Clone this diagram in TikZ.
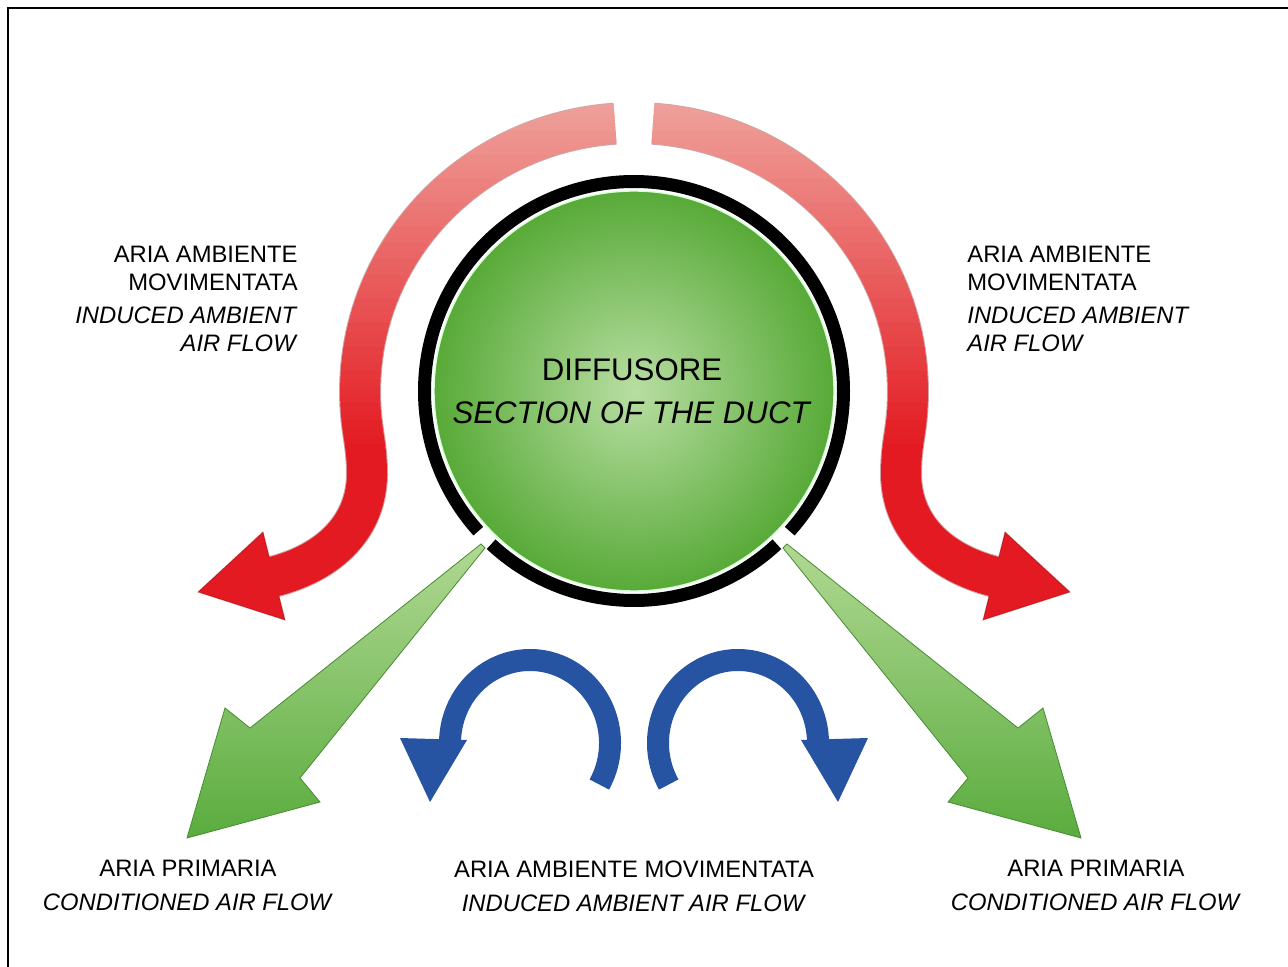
\documentclass[tikz,border=0pt]{standalone}
\usepackage{fontspec}
\setmainfont{Liberation Sans}
\usetikzlibrary{calc}

\definecolor{redtop}{RGB}{239,160,154}
\definecolor{redlow}{RGB}{227,26,33}
\definecolor{greenlight}{RGB}{176,216,146}
\definecolor{greendark}{RGB}{90,172,62}
\definecolor{greenedge}{RGB}{70,140,50}
\definecolor{blueflow}{RGB}{38,84,163}
\definecolor{disklight}{RGB}{184,222,162}
\definecolor{diskdark}{RGB}{88,170,56}

% centre line of the induced (red) flow, left side
\newcommand{\inducedpath}{(615,123.7) arc[start angle=266, end angle=180, x radius=274, y radius=268]
  .. controls (360,430) and (367,440) .. (367,475)
  .. controls (366,530) and (325,565) .. (268,578)}

\tikzset{
  band/.style={line width=20pt},
  bandedge/.style={line width=21pt, draw=red!45!black, opacity=0.35},
  swirl/.style={line width=11pt, draw=blueflow},
  lab/.style={inner sep=0pt, font=\fontsize{11.9}{13.85}\selectfont},
  labbottom/.style={inner sep=0pt, align=center, font=\fontsize{11.9}{17}\selectfont},
  duct/.style={inner sep=0pt, align=center, font=\fontsize{15.6}{21.65}\selectfont}
}

\begin{document}
\begin{tikzpicture}[x=0.5pt, y=-0.5pt]
    \useasboundingbox (0,0) rectangle (1288,967);
    \draw[line width=1.2pt] (8,967) -- (8,8) -- (1288,8);

    % duct section
    \shade[inner color=disklight, outer color=diskdark] (634,391) circle[radius=200];
    \draw[line width=0.7pt, color=green!15] (634,391) circle[radius=200];
    \draw[line width=6.5pt] (634,391) ++(138:209.5) arc[start angle=138, end angle=402, radius=209.5];
    \draw[line width=6.5pt] (634,391) ++(47:209.5) arc[start angle=47, end angle=133, radius=209.5];

    \foreach \s/\sh in {1/0, -1/1268}{
        \begin{scope}[shift={(\sh,0)}, xscale=\s]
            % red flow, faded in thin strips
            \draw[bandedge] \inducedpath;
            \filldraw[fill=redlow, draw=red!45!black, draw opacity=0.35, line width=0.5pt]
                (263,532) -- (198,592) -- (285,620) -- cycle;
            \foreach \i in {0,...,43}{
                \pgfmathtruncatemacro{\mix}{100*\i/43}
                \begin{scope}
                    \clip (0,100+8*\i) rectangle (640,109+8*\i);
                    \draw[band, draw=redlow!\mix!redtop] \inducedpath;
                \end{scope}
            }
            \begin{scope}
                \clip (0,452) rectangle (640,700);
                \draw[band, draw=redlow] \inducedpath;
            \end{scope}

            % green flow
            \shade[top color=greenlight, bottom color=greendark, draw=greenedge, line width=0.4pt]
                (481,544) -- (250,728) -- (225,708) -- (187,838) -- (320,802) -- (300,778) -- (485,548) -- cycle;

            % blue swirl
            \draw[swirl] (530,743) ++(30:80 and 83) arc[start angle=30, end angle=-180, x radius=80, y radius=83];
            \fill[blueflow] (400,738) -- (430,802) -- (467,740) -- cycle;
        \end{scope}
    }

    \node[duct, anchor=north] (duct) at (632,358) {DIFFUSORE\\\textit{SECTION OF THE DUCT}};

    \node[lab, anchor=north east, align=right] (leftinduced) at (298,246)
        {ARIA AMBIENTE\\MOVIMENTATA\\[2.8pt]\textit{INDUCED AMBIENT}\\\textit{AIR FLOW}};
    \node[lab, anchor=north west, align=left] (rightinduced) at (967,246)
        {ARIA AMBIENTE\\MOVIMENTATA\\[2.8pt]\textit{INDUCED AMBIENT}\\\textit{AIR FLOW}};

    \node[labbottom, anchor=north] (leftprimary) at (188,860) {ARIA PRIMARIA\\\textit{CONDITIONED AIR FLOW}};
    \node[labbottom, anchor=north] (midinduced) at (634,860) {ARIA AMBIENTE MOVIMENTATA\\\textit{INDUCED AMBIENT AIR FLOW}};
    \node[labbottom, anchor=north] (rightprimary) at (1096,860) {ARIA PRIMARIA\\\textit{CONDITIONED AIR FLOW}};
\end{tikzpicture}
\end{document}
